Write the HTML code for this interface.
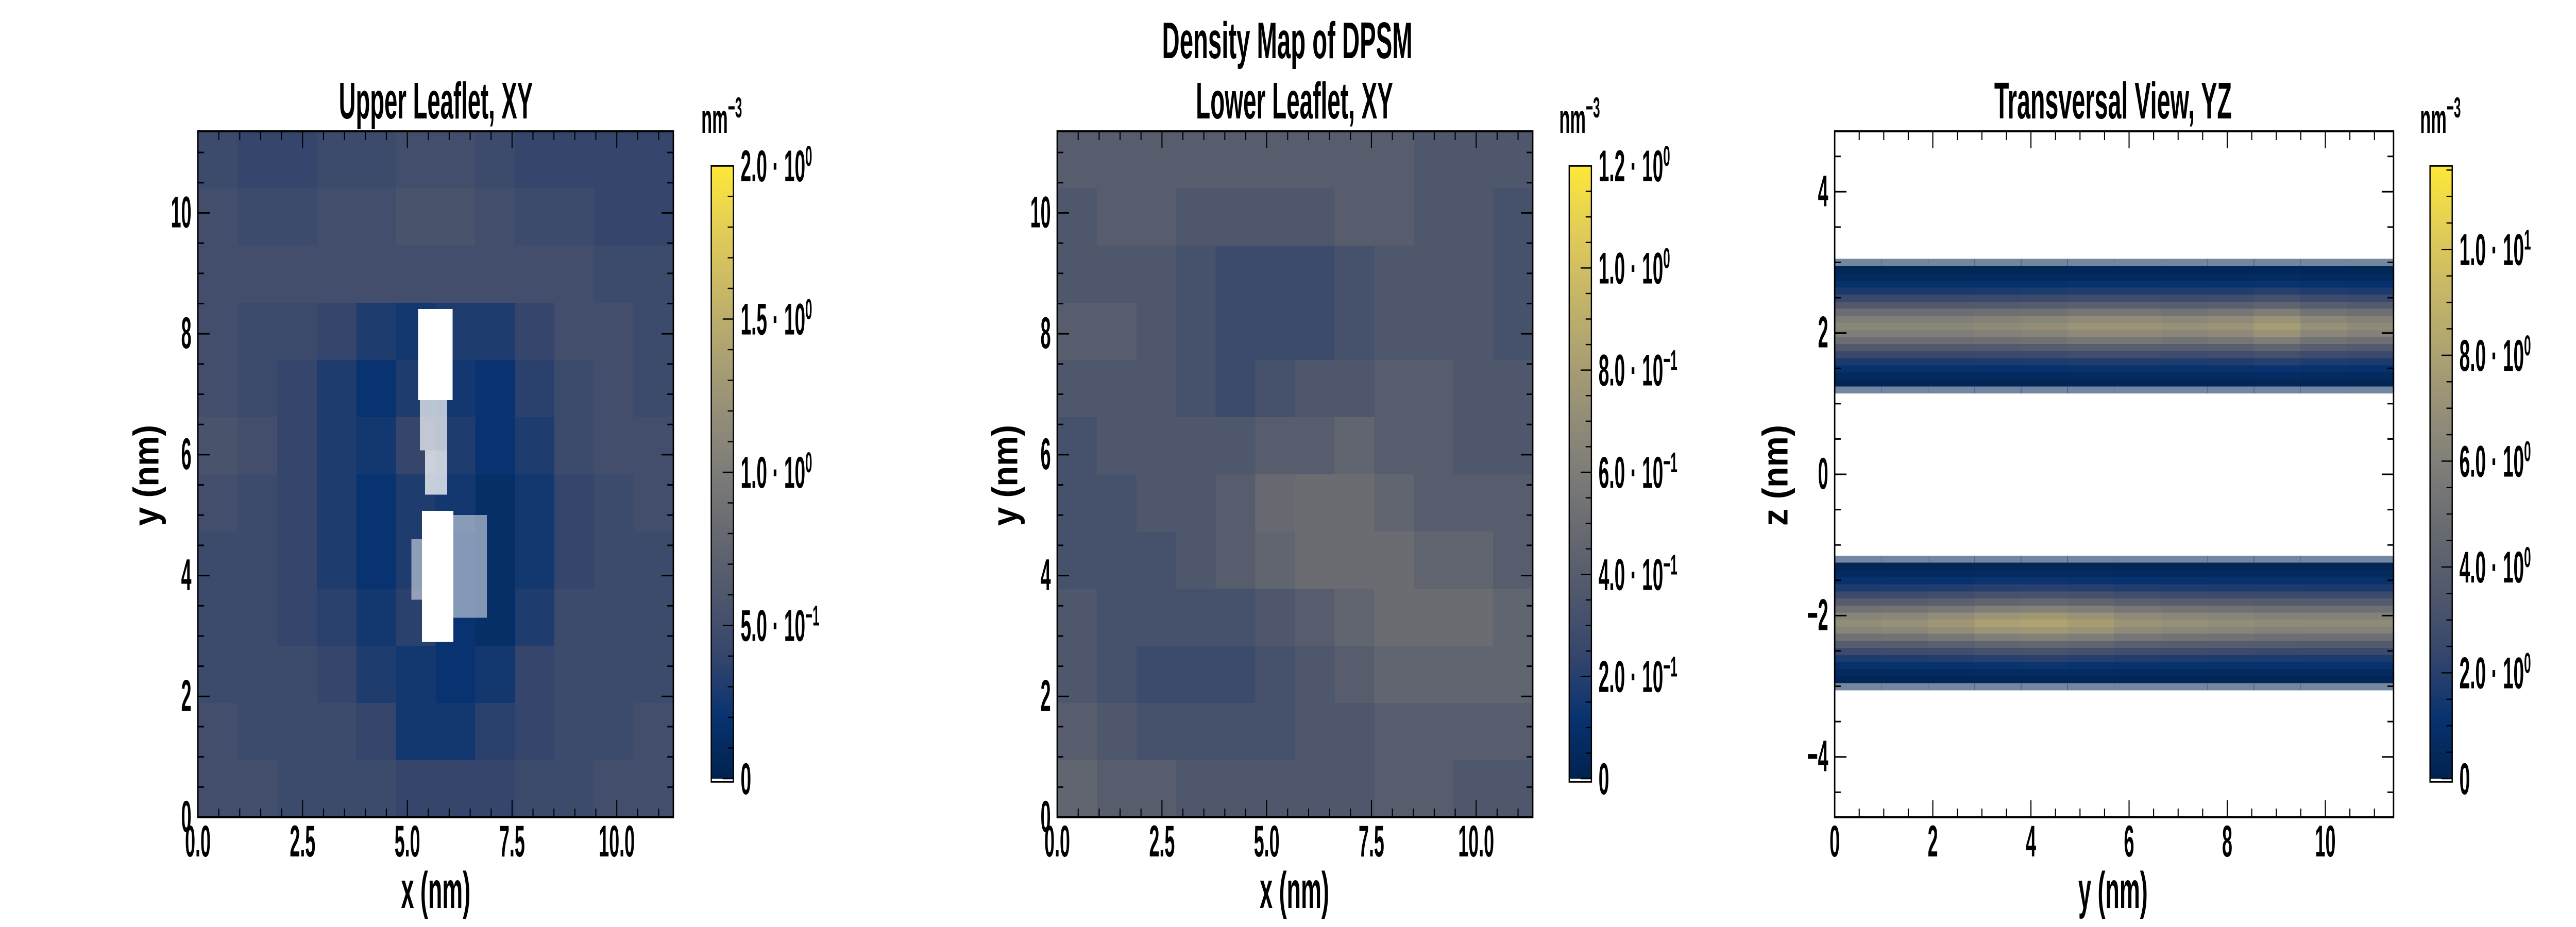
<!DOCTYPE html>
<html><head><meta charset="utf-8"><title>Density Map of DPSM</title>
<style>html,body{margin:0;padding:0;background:#fff;overflow:hidden;width:100%;height:100%;}svg{display:block;width:100vw;height:100vh;}
text{font-family:"Liberation Sans",sans-serif;font-weight:bold;fill:#000;}</style></head>
<body>
<svg id="fig" xmlns="http://www.w3.org/2000/svg" viewBox="0 0 7200 1800" preserveAspectRatio="none">
<defs>
<linearGradient id="cmap" x1="0" y1="1" x2="0" y2="0">
<stop offset="0" stop-color="#00224e"/><stop offset="0.1" stop-color="#083370"/><stop offset="0.2" stop-color="#35456c"/><stop offset="0.3" stop-color="#4f576c"/><stop offset="0.4" stop-color="#666970"/><stop offset="0.5" stop-color="#7d7c78"/><stop offset="0.6" stop-color="#958f78"/><stop offset="0.7" stop-color="#aea371"/><stop offset="0.8" stop-color="#c8b866"/><stop offset="0.9" stop-color="#e3ce56"/><stop offset="1" stop-color="#fee838"/>
</linearGradient>
</defs>
</svg>
<script>
// ---- data ----
const upperGrid = [
[0.45,0.4,0.4,0.45,0.45,0.5,0.5,0.45,0.4,0.4,0.4,0.4],
[0.5,0.45,0.45,0.5,0.5,0.55,0.55,0.5,0.45,0.45,0.4,0.4],
[0.5,0.5,0.5,0.5,0.5,0.5,0.5,0.5,0.5,0.5,0.45,0.45],
[0.5,0.45,0.45,0.4,0.3,0.25,0.3,0.3,0.4,0.5,0.5,0.45],
[0.5,0.45,0.4,0.3,0.2,0.3,0.25,0.2,0.35,0.45,0.5,0.45],
[0.55,0.5,0.4,0.3,0.25,0.4,0.3,0.2,0.3,0.45,0.5,0.5],
[0.5,0.45,0.4,0.3,0.2,0.3,0.25,0.15,0.25,0.4,0.45,0.5],
[0.45,0.45,0.4,0.3,0.2,0.3,0.2,0.15,0.25,0.4,0.45,0.45],
[0.45,0.45,0.4,0.35,0.25,0.35,0.2,0.15,0.3,0.45,0.45,0.45],
[0.45,0.45,0.45,0.4,0.3,0.25,0.2,0.25,0.4,0.45,0.45,0.45],
[0.5,0.45,0.45,0.45,0.4,0.25,0.25,0.35,0.4,0.45,0.45,0.5],
[0.5,0.5,0.45,0.45,0.45,0.4,0.4,0.4,0.45,0.45,0.5,0.5]];
// empty (zero-density) regions of upper leaflet: [x0,y0,x1,y1,fraction]
const upperHoles = [[5.26,6.9,6.08,8.41,1],[5.3,6.07,5.95,6.9,0.7],[5.42,5.34,5.95,6.07,0.75],[5.35,2.9,6.1,5.07,1],[6.1,3.3,6.9,5.0,0.5],[5.1,3.6,5.35,4.6,0.5]];
const lowerGrid = [
[0.4,0.4,0.4,0.4,0.4,0.4,0.4,0.4,0.4,0.36,0.36,0.36],
[0.36,0.4,0.4,0.36,0.36,0.36,0.36,0.4,0.4,0.36,0.36,0.32],
[0.36,0.36,0.36,0.32,0.27,0.27,0.27,0.32,0.36,0.36,0.36,0.32],
[0.4,0.4,0.36,0.32,0.27,0.27,0.27,0.32,0.36,0.36,0.36,0.32],
[0.36,0.36,0.36,0.32,0.27,0.32,0.36,0.36,0.4,0.4,0.36,0.36],
[0.32,0.36,0.36,0.36,0.36,0.4,0.4,0.45,0.4,0.4,0.36,0.36],
[0.32,0.32,0.36,0.36,0.4,0.48,0.5,0.5,0.45,0.4,0.4,0.4],
[0.32,0.32,0.32,0.36,0.4,0.45,0.5,0.5,0.5,0.45,0.45,0.4],
[0.36,0.32,0.32,0.32,0.32,0.36,0.4,0.45,0.5,0.5,0.5,0.45],
[0.36,0.32,0.27,0.27,0.27,0.32,0.36,0.4,0.45,0.45,0.45,0.45],
[0.4,0.36,0.32,0.32,0.32,0.32,0.36,0.36,0.4,0.4,0.4,0.4],
[0.45,0.4,0.4,0.36,0.36,0.36,0.36,0.36,0.4,0.4,0.36,0.36]];
const bandCenters = [2.1, -2.1];
const bandOffsets = [-0.9,-0.8,-0.7,-0.6,-0.5,-0.4,-0.3,-0.2,-0.1,0,0.1,0.2,0.3,0.4,0.5,0.6,0.7,0.8,0.9];
const bandProfile = [0.15,0.3,0.6,1.1,1.8,2.8,4.0,5.4,6.6,7.2,6.6,5.4,4.0,2.8,1.8,1.1,0.6,0.3,0.15];
const upperBandMod = [0.9,0.9,0.9,0.92,0.95,1.0,1.0,0.97,1.0,1.08,0.97,0.92];
const lowerBandMod = [0.95,0.97,1.02,1.1,1.13,1.08,1.0,0.97,0.95,0.93,0.92,0.92];
const xyTicks = [0,2.5,5,7.5,10];
const xyTickLabels = ["0.0","2.5","5.0","7.5","10.0"];
const yTicks = [0,2,4,6,8,10];
const zTicks = [-4,-2,0,2,4];
const zTickLabels = ["\u22124","\u22122","0","2","4"];
const cb1Ticks = [0,0.5,1.0,1.5,2.0]; const cb1Labels=[["0",""],["5.0 \u00b7 10","\u22121"],["1.0 \u00b7 10","0"],["1.5 \u00b7 10","0"],["2.0 \u00b7 10","0"]];
const cb2Ticks = [0,0.2,0.4,0.6,0.8,1.0,1.2]; const cb2Labels=[["0",""],["2.0 \u00b7 10","\u22121"],["4.0 \u00b7 10","\u22121"],["6.0 \u00b7 10","\u22121"],["8.0 \u00b7 10","\u22121"],["1.0 \u00b7 10","0"],["1.2 \u00b7 10","0"]];
const cb3Ticks = [0,2,4,6,8,10]; const cb3Labels=[["0",""],["2.0 \u00b7 10","0"],["4.0 \u00b7 10","0"],["6.0 \u00b7 10","0"],["8.0 \u00b7 10","0"],["1.0 \u00b7 10","1"]];

// ---- helpers ----
const NS="http://www.w3.org/2000/svg";
const svg=document.getElementById('fig');
const stops=[[0,[0,34,78]],[0.1,[8,51,112]],[0.2,[53,69,108]],[0.3,[79,87,108]],[0.4,[102,105,112]],[0.5,[125,124,120]],[0.6,[149,143,120]],[0.7,[174,163,113]],[0.8,[200,184,102]],[0.9,[227,206,86]],[1,[254,232,56]]];
function cmap(t){t=Math.max(0,Math.min(1,t));for(let i=1;i<stops.length;i++){if(t<=stops[i][0]){const a=stops[i-1],b=stops[i];const f=(t-a[0])/(b[0]-a[0]);const c=a[1].map((v,k)=>Math.round(v+(b[1][k]-v)*f));return `rgb(${c[0]},${c[1]},${c[2]})`;}}return 'rgb(254,232,56)';}
function el(tag,attrs,parent){const e=document.createElementNS(NS,tag);for(const k in attrs)e.setAttribute(k,attrs[k]);(parent||svg).appendChild(e);return e;}
function txt(x,y,s,size,anchor,sx,parent,len){const t=el('text',{'font-size':size,'text-anchor':anchor||'middle'},parent);
  if(len){t.setAttribute('x',x);t.setAttribute('y',y);t.setAttribute('textLength',len);t.setAttribute('lengthAdjust','spacingAndGlyphs');}
  else t.setAttribute('transform',`translate(${x},${y}) scale(${sx||0.62},1)`);
  t.textContent=s;return t;}
function makeAxis(px0,px1,py0,py1,xmin,xmax,ymin,ymax){return{px0,px1,py0,py1,sx:v=>px0+(v-xmin)/(xmax-xmin)*(px1-px0),sy:v=>py1-(v-ymin)/(ymax-ymin)*(py1-py0),xmin,xmax,ymin,ymax};}

function frame(ax,xt,xl,yt,yl,xminor,yminor,name){
  const g=el('g',{});
  
  
  const M=33,m=17;
  for(let v=ax.xmin;v<=ax.xmax+1e-9;v+=xminor){const x=ax.sx(v);const major=xt.some(t=>Math.abs(t-v)<1e-6);const L=major?M:m;
    el('line',{x1:x,y1:ax.py1,x2:x,y2:ax.py1-L,stroke:'#000','stroke-width':3},g);el('line',{x1:x,y1:ax.py0,x2:x,y2:ax.py0+L,stroke:'#000','stroke-width':3},g);}
  for(let v=Math.ceil(ax.ymin/yminor)*yminor;v<=ax.ymax+1e-9;v+=yminor){const y=ax.sy(v);const major=yt.some(t=>Math.abs(t-v)<1e-6);const L=major?M:m;
    el('line',{x1:ax.px0,y1:y,x2:ax.px0+L,y2:y,stroke:'#000','stroke-width':3},g);el('line',{x1:ax.px1,y1:y,x2:ax.px1-L,y2:y,stroke:'#000','stroke-width':3},g);}
  el('rect',{x:ax.px0,y:ax.py0,width:ax.px1-ax.px0,height:ax.py1-ax.py0,fill:'none',stroke:'#000','stroke-width':4},g);
  xt.forEach((v,i)=>{const t=txt(ax.sx(v),ax.py1+76,xl[i],86,'middle',0.6,g);
    
    });
  yt.forEach((v,i)=>{const t=txt(ax.px0-18,ax.sy(v)+28,yl[i],86,'end',0.6,g);
    
    });
}
function colorbar(x0,vmax,ticks,labels,minor,name){
  const g=el('g',{});
  
  
  const top=322,bot=1518,w=62;const sy=v=>bot-6-(v/vmax)*(bot-6-top);
  el('rect',{x:x0,y:bot-6,width:w,height:6,fill:'#fff'},g);
  el('rect',{x:x0,y:top,width:w,height:bot-6-top,fill:'url(#cmap)'},g);
  for(let v=0;v<=vmax+1e-9;v+=minor){const major=ticks.some(t=>Math.abs(t-v)<1e-6);el('line',{x1:x0+w,y1:sy(v),x2:x0+w-(major?30:16),y2:sy(v),stroke:'#000','stroke-width':2.5},g);}
  el('rect',{x:x0,y:top,width:w,height:bot-top,fill:'none',stroke:'#000','stroke-width':3.5},g);
  ticks.forEach((v,i)=>{const t=txt(x0+82,sy(v)+30,'',86,'start',0.62,g);
    
    
    t.textContent=labels[i][0];
    if(labels[i][1]){const s=el('tspan',{dy:-30,'font-size':56},t);s.textContent=labels[i][1];}});
  const u=txt(x0-28,258,'nm',80,'start',0.62,g);
  
  
  const s=el('tspan',{dy:-30,'font-size':56},u);s.textContent='\u22123';
}
function grid(ax,G,vmax,name){
  const g=el('g',{'shape-rendering':'crispEdges'});
  
  
  const n=G.length,m=G[0].length,dx=(ax.xmax-ax.xmin)/m,dy=(ax.ymax-ax.ymin)/n;
  G.forEach((row,r)=>row.forEach((v,c)=>{
    const x0=ax.sx(ax.xmin+c*dx),x1=ax.sx(ax.xmin+(c+1)*dx),y1=ax.sy(ax.ymax-r*dy),y0=ax.sy(ax.ymax-(r+1)*dy);
    const cell=el('rect',{x:x0,y:y1,width:x1-x0+1,height:y0-y1+1,fill:cmap(v/vmax)},g);
    
    
  }));
  return g;
}

// ---- panel 1: upper leaflet ----
const ax1=makeAxis(553,1882,255,1587,0,11.35,0,11.35);
const g1=grid(ax1,upperGrid,2.0,'upper-leaflet-heatmap');
upperHoles.forEach(h=>{const r=el('rect',{x:ax1.sx(h[0]),y:ax1.sy(h[3]),width:ax1.sx(h[2])-ax1.sx(h[0]),height:ax1.sy(h[1])-ax1.sy(h[3]),fill:'#fff','fill-opacity':h[4]},g1);
  
  });
frame(ax1,xyTicks,xyTickLabels,yTicks,yTicks.map(String),0.5,0.5,'upper-leaflet');
colorbar(1988,2.0,cb1Ticks,cb1Labels,0.1,'upper-colorbar');

// ---- panel 2: lower leaflet ----
const ax2=makeAxis(2955,4284,255,1587,0,11.35,0,11.35);
grid(ax2,lowerGrid,1.2,'lower-leaflet-heatmap');
frame(ax2,xyTicks,xyTickLabels,yTicks,yTicks.map(String),0.5,0.5,'lower-leaflet');
colorbar(4386,1.2,cb2Ticks,cb2Labels,0.05,'lower-colorbar');

// ---- panel 3: transversal ----
const ax3=makeAxis(5128,6690,255,1587,0,11.39,-4.855,4.855);
const g3=el('g',{'shape-rendering':'crispEdges'});


[upperBandMod,lowerBandMod].forEach((mod,b)=>{
  const dx=(ax3.xmax-ax3.xmin)/mod.length;
  mod.forEach((mv,c)=>bandOffsets.forEach((o,k)=>{
    const z0=bandCenters[b]+o-0.05,z1=bandCenters[b]+o+0.05;
    const x0=ax3.sx(c*dx),x1=ax3.sx((c+1)*dx);
    const r=el('rect',{x:x0,y:ax3.sy(z1),width:x1-x0+1,height:ax3.sy(z0)-ax3.sy(z1)+1,fill:cmap(bandProfile[k]*mv/11.58)},g3);
    if(Math.abs(o)>0.85)r.setAttribute('fill-opacity',0.55);
    
    
  }));
});
frame(ax3,[0,2,4,6,8,10],["0","2","4","6","8","10"],zTicks,zTickLabels,0.5,0.5,'transversal');
colorbar(6792,11.58,cb3Ticks,cb3Labels,0.5,'transversal-colorbar');

// ---- titles and axis labels ----
function label(x,y,s,size,len,name,rot){const t=txt(x,y,s,size,'middle',null,null,len);
  if(rot)t.setAttribute('transform',`rotate(-90 ${x} ${y})`);
  
  return t;}
label(3598,113,'Density Map of DPSM',100,700,'figure-title');
label(1218,230,'Upper Leaflet, XY',100,542,'upper-leaflet-title');
label(3618,230,'Lower Leaflet, XY',100,551,'lower-leaflet-title');
label(5906,230,'Transversal View, YZ',100,664,'transversal-title');
label(1218,1763,'x (nm)',100,194,'upper-x-axis-title');
label(3618,1763,'x (nm)',100,194,'lower-x-axis-title');
label(5906,1763,'y (nm)',100,194,'transversal-x-axis-title');
label(443,923,'y (nm)',100,196,'upper-y-axis-title',true);
label(2843,923,'y (nm)',100,196,'lower-y-axis-title',true);
label(4996,923,'z (nm)',100,196,'transversal-y-axis-title',true);
</script>
</body></html>
